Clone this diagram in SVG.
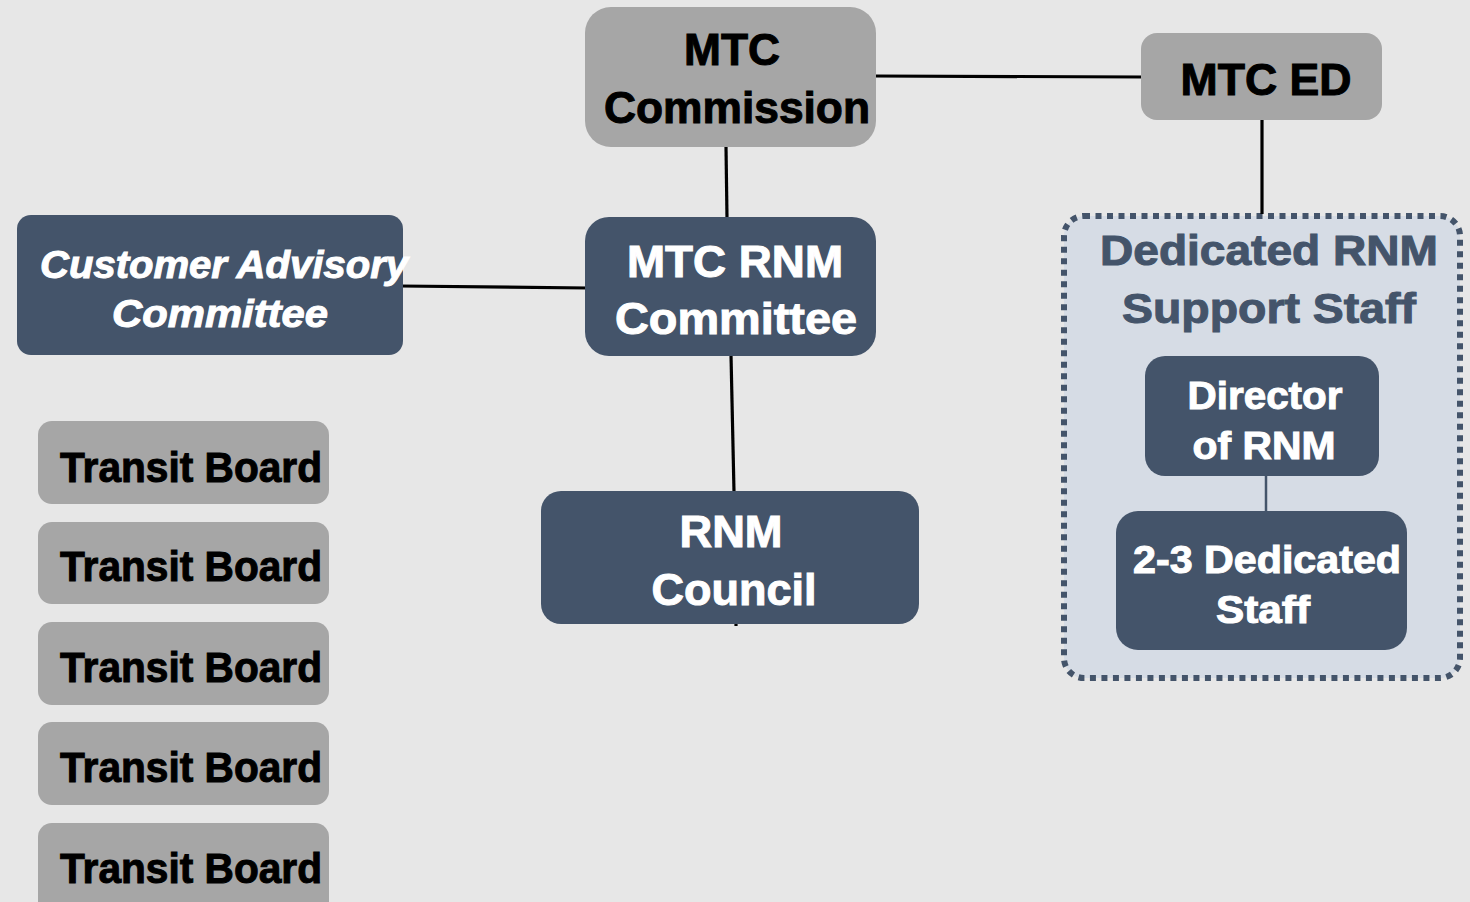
<svg xmlns="http://www.w3.org/2000/svg" width="1470" height="902" viewBox="0 0 1470 902">
<style>
.bg{fill:#e7e7e7}
.gray{fill:#a6a6a6}
.navy{fill:#44546a}
.t{font-family:"Liberation Sans","Arial",sans-serif;font-weight:700;text-anchor:middle}
.dk{fill:#000;stroke:#000;stroke-width:1}
.wh{fill:#fff;stroke:#fff;stroke-width:1}
.nv{fill:#44546a;stroke:#44546a;stroke-width:1}
.it{font-style:italic}
.conn{stroke:#000;stroke-width:3.2;fill:none}
</style>
<rect class="bg" x="0" y="0" width="1470" height="902"/>
<g id="support-staff">
<rect x="1064" y="216" width="396" height="462" rx="20" fill="#d6dce5" stroke="#44546a" stroke-width="6" stroke-dasharray="6 5.5"/>
<text class="t nv" x="1269" y="265" font-size="42" textLength="338" lengthAdjust="spacingAndGlyphs">Dedicated RNM</text>
<text class="t nv" x="1269" y="323" font-size="42" textLength="294" lengthAdjust="spacingAndGlyphs">Support Staff</text>
</g>
<g id="connectors">
<line class="conn" x1="874" y1="76" x2="1145" y2="77"/>
<line class="conn" x1="726" y1="147" x2="727" y2="218"/>
<line class="conn" x1="400" y1="286" x2="588" y2="288"/>
<line class="conn" x1="731" y1="355" x2="734" y2="492"/>
<line class="conn" x1="736" y1="622" x2="736" y2="626"/>
<line class="conn" x1="1262" y1="120" x2="1262" y2="214"/>
<line x1="1266" y1="475" x2="1266" y2="512" stroke="#44546a" stroke-width="2.5"/>
</g>
<g id="mtc-commission">
<rect class="gray" x="585" y="7" width="291" height="140" rx="26"/>
<text class="t dk" x="732" y="65" font-size="44" textLength="96" lengthAdjust="spacingAndGlyphs">MTC</text>
<text class="t dk" x="737" y="123" font-size="44" textLength="266" lengthAdjust="spacingAndGlyphs">Commission</text>
</g>
<g id="mtc-ed">
<rect class="gray" x="1141" y="33" width="241" height="87" rx="16"/>
<text class="t dk" x="1266" y="95" font-size="44" textLength="171" lengthAdjust="spacingAndGlyphs">MTC ED</text>
</g>
<g id="mtc-rnm-committee">
<rect class="navy" x="585" y="217" width="291" height="139" rx="24"/>
<text class="t wh" x="735" y="277" font-size="44" textLength="216" lengthAdjust="spacingAndGlyphs">MTC RNM</text>
<text class="t wh" x="736" y="334" font-size="44" textLength="242" lengthAdjust="spacingAndGlyphs">Committee</text>
</g>
<g id="customer-advisory-committee">
<rect class="navy" x="17" y="215" width="386" height="140" rx="14"/>
<text class="t wh it" x="224" y="278" font-size="38" textLength="368" lengthAdjust="spacingAndGlyphs">Customer Advisory</text>
<text class="t wh it" x="220" y="327" font-size="38" textLength="216" lengthAdjust="spacingAndGlyphs">Committee</text>
</g>
<g id="rnm-council">
<rect class="navy" x="541" y="491" width="378" height="133" rx="20"/>
<text class="t wh" x="731" y="547" font-size="44" textLength="103" lengthAdjust="spacingAndGlyphs">RNM</text>
<text class="t wh" x="734" y="605" font-size="44" textLength="165" lengthAdjust="spacingAndGlyphs">Council</text>
</g>
<g id="director-of-rnm">
<rect class="navy" x="1145" y="356" width="234" height="120" rx="20"/>
<text class="t wh" x="1265" y="409" font-size="38" textLength="155" lengthAdjust="spacingAndGlyphs">Director</text>
<text class="t wh" x="1264" y="459" font-size="38" textLength="143" lengthAdjust="spacingAndGlyphs">of RNM</text>
</g>
<g id="dedicated-staff">
<rect class="navy" x="1116" y="511" width="291" height="139" rx="22"/>
<text class="t wh" x="1267" y="573" font-size="38" textLength="268" lengthAdjust="spacingAndGlyphs">2-3 Dedicated</text>
<text class="t wh" x="1263" y="623" font-size="38" textLength="94" lengthAdjust="spacingAndGlyphs">Staff</text>
</g>
<g id="transit-board-1">
<rect class="gray" x="38" y="421" width="291" height="83" rx="14"/>
<text class="t dk" x="191" y="482" font-size="42" textLength="262" lengthAdjust="spacingAndGlyphs">Transit Board</text>
</g>
<g id="transit-board-2">
<rect class="gray" x="38" y="522" width="291" height="82" rx="14"/>
<text class="t dk" x="191" y="581" font-size="42" textLength="262" lengthAdjust="spacingAndGlyphs">Transit Board</text>
</g>
<g id="transit-board-3">
<rect class="gray" x="38" y="622" width="291" height="83" rx="14"/>
<text class="t dk" x="191" y="682" font-size="42" textLength="262" lengthAdjust="spacingAndGlyphs">Transit Board</text>
</g>
<g id="transit-board-4">
<rect class="gray" x="38" y="722" width="291" height="83" rx="14"/>
<text class="t dk" x="191" y="782" font-size="42" textLength="262" lengthAdjust="spacingAndGlyphs">Transit Board</text>
</g>
<g id="transit-board-5">
<rect class="gray" x="38" y="823" width="291" height="95" rx="14"/>
<text class="t dk" x="191" y="883" font-size="42" textLength="262" lengthAdjust="spacingAndGlyphs">Transit Board</text>
</g>
</svg>
